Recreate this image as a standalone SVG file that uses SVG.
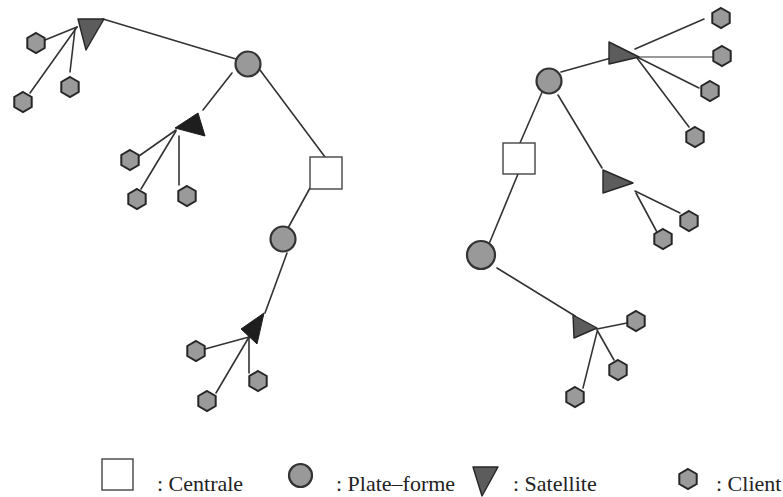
<svg xmlns="http://www.w3.org/2000/svg" xmlns:xlink="http://www.w3.org/1999/xlink" width="783" height="497" viewBox="0 0 783 497">
  <style>
    .edge { stroke: #333; stroke-width: 1.6; fill: none; stroke-linecap: round; }
    .edge.light { stroke: #777; }
    .client { fill: #9a9a9a; stroke: #262626; stroke-width: 2; }
    .plat { fill: #999; stroke: #333; stroke-width: 2.2; }
    .central { fill: #fff; stroke: #444; stroke-width: 1.4; }
    .sat-dark { fill: #1e1e1e; stroke: #1e1e1e; stroke-width: 1; stroke-linejoin: round; }
    .sat-mid { fill: #5c5c5c; stroke: #262626; stroke-width: 1.4; stroke-linejoin: round; }
    .label { font-family: "Liberation Serif", "Times New Roman", serif; font-size: 22px; fill: #222; }
  </style>
  <defs>
    <polygon id="hex" points="0,-10 8.7,-5 8.7,5 0,10 -8.7,5 -8.7,-5"/>
  </defs>
  <rect width="783" height="497" fill="#fff"/>

  <!-- links between depots, satellites and clients -->
  <g id="connectors">
    <!-- left network -->
    <line class="edge" x1="103" y1="19" x2="236" y2="59"/>
    <line class="edge" x1="77" y1="27" x2="45" y2="40"/>
    <line class="edge" x1="77" y1="27" x2="30" y2="93"/>
    <line class="edge" x1="75" y1="29" x2="70" y2="72"/>
    <line class="edge" x1="232" y1="73" x2="203" y2="110"/>
    <line class="edge" x1="260" y1="70" x2="325" y2="157"/>
    <line class="edge" x1="176" y1="130" x2="139" y2="156"/>
    <line class="edge" x1="176" y1="131" x2="141" y2="189"/>
    <line class="edge" x1="179" y1="136" x2="179" y2="185"/>
    <line class="edge" x1="310" y1="188" x2="288" y2="228"/>
    <line class="edge" x1="287" y1="253" x2="265" y2="313"/>
    <line class="edge" x1="249" y1="337" x2="205" y2="349"/>
    <line class="edge" x1="249" y1="337" x2="216" y2="393"/>
    <line class="edge" x1="249" y1="338" x2="249" y2="373"/>
    <!-- right network -->
    <line class="edge" x1="543" y1="90" x2="520" y2="143"/>
    <line class="edge" x1="518" y1="174" x2="489" y2="244"/>
    <line class="edge" x1="561" y1="72" x2="611" y2="58"/>
    <line class="edge" x1="635" y1="49" x2="704" y2="19"/>
    <line class="edge light" x1="637" y1="57" x2="713" y2="57"/>
    <line class="edge" x1="637" y1="57" x2="699" y2="88"/>
    <line class="edge" x1="637" y1="58" x2="689" y2="127"/>
    <line class="edge" x1="558" y1="95" x2="602" y2="168"/>
    <line class="edge" x1="635" y1="191" x2="680" y2="213"/>
    <line class="edge" x1="636" y1="193" x2="658" y2="234"/>
    <line class="edge" x1="497" y1="268" x2="575" y2="316"/>
    <line class="edge" x1="597" y1="329" x2="627" y2="323"/>
    <line class="edge" x1="597" y1="330" x2="614" y2="360"/>
    <line class="edge" x1="597" y1="332" x2="583" y2="388"/>
  </g>

  <!-- left network nodes -->
  <g id="sat-l1"><polygon class="sat-mid" points="78,19 104,19 86,50"/></g>
  <g id="cl-l1"><use xlink:href="#hex" class="client" x="36" y="43"/></g>
  <g id="cl-l2"><use xlink:href="#hex" class="client" x="23" y="102"/></g>
  <g id="cl-l3"><use xlink:href="#hex" class="client" x="70" y="87"/></g>
  <g id="plat-l1"><circle class="plat" cx="248" cy="64" r="12.5"/></g>
  <g id="sat-l2"><polygon class="sat-dark" points="175,128 198,113 205,136"/></g>
  <g id="cl-l4"><use xlink:href="#hex" class="client" x="130" y="160"/></g>
  <g id="cl-l5"><use xlink:href="#hex" class="client" x="137" y="199"/></g>
  <g id="cl-l6"><use xlink:href="#hex" class="client" x="187" y="196"/></g>
  <g id="central-l"><rect class="central" x="310" y="157" width="32" height="32"/></g>
  <g id="plat-l2"><circle class="plat" cx="283" cy="239" r="12.5"/></g>
  <g id="sat-l3"><polygon class="sat-dark" points="264,313 241,329 257,344"/></g>
  <g id="cl-l7"><use xlink:href="#hex" class="client" x="196" y="351"/></g>
  <g id="cl-l8"><use xlink:href="#hex" class="client" x="258" y="381"/></g>
  <g id="cl-l9"><use xlink:href="#hex" class="client" x="207" y="401"/></g>

  <!-- right network nodes -->
  <g id="plat-r1"><circle class="plat" cx="549" cy="81" r="12.5"/></g>
  <g id="central-r"><rect class="central" x="503" y="143" width="32" height="31"/></g>
  <g id="plat-r2"><circle class="plat" cx="481" cy="255" r="14"/></g>
  <g id="sat-r1"><polygon class="sat-mid" points="609,42 609,64 639,57"/></g>
  <g id="cl-r1"><use xlink:href="#hex" class="client" x="721" y="18"/></g>
  <g id="cl-r2"><use xlink:href="#hex" class="client" x="722" y="56"/></g>
  <g id="cl-r3"><use xlink:href="#hex" class="client" x="710" y="91"/></g>
  <g id="cl-r4"><use xlink:href="#hex" class="client" x="695" y="137"/></g>
  <g id="sat-r2"><polygon class="sat-mid" points="603,170 603,193 633,183"/></g>
  <g id="cl-r5"><use xlink:href="#hex" class="client" x="689" y="221"/></g>
  <g id="cl-r6"><use xlink:href="#hex" class="client" x="663" y="239"/></g>
  <g id="sat-r3"><polygon class="sat-mid" points="573,315 574,338 597,328"/></g>
  <g id="cl-r7"><use xlink:href="#hex" class="client" x="636" y="321"/></g>
  <g id="cl-r8"><use xlink:href="#hex" class="client" x="618" y="370"/></g>
  <g id="cl-r9"><use xlink:href="#hex" class="client" x="575" y="397"/></g>

  <!-- legend -->
  <g id="legend">
    <rect class="central" x="102" y="459" width="31" height="31"/>
    <text class="label" x="157" y="491">: Centrale</text>
    <circle class="plat" cx="300.5" cy="475.5" r="11.5"/>
    <text class="label" x="336" y="491">: Plate–forme</text>
    <polygon class="sat-mid" points="473,467 498,467 482,496"/>
    <text class="label" x="513" y="491">: Satellite</text>
    <use xlink:href="#hex" class="client" x="688" y="479"/>
    <text class="label" x="716" y="491">: Client</text>
  </g>
</svg>
